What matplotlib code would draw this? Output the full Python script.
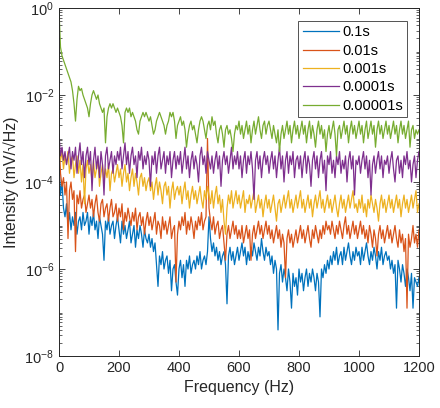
import numpy as np
import matplotlib
matplotlib.use('Agg')
import matplotlib.pyplot as plt
from matplotlib.ticker import LogLocator, NullFormatter, FixedLocator

plt.rcParams['font.family'] = ['Liberation Sans', 'DejaVu Sans']

# frequency grid (Hz), 5 Hz step
freq = np.arange(0, 1205, 5)

# log10 of intensity, 20 values per 100 Hz
log_01 = [
    -3.4, -4.3, -4.0, -4.6, -4.8, -4.5, -5.0, -4.7, -5.1, -4.8, -5.0, -4.7, -5.2, -4.9, -4.8, -5.1, -4.7, -5.0, -4.9, -4.7,
    -5.2, -4.8, -5.0, -4.7, -5.1, -4.9, -5.3, -4.8, -5.0, -5.2, -5.8, -4.9, -5.1, -4.8, -5.2, -5.0, -4.9, -5.3, -5.0, -4.8,
    -5.1, -5.4, -4.9, -5.2, -5.0, -5.3, -5.1, -4.9, -5.4, -5.2, -5.0, -5.5, -5.1, -5.3, -5.0, -5.2, -5.5, -5.1, -5.3, -5.4,
    -5.2, -5.5, -5.3, -5.6, -5.4, -5.9, -6.4, -5.7, -5.9, -5.6, -6.0, -5.8, -5.7, -6.1, -5.8, -6.5, -6.0, -5.9, -6.3, -6.6,
    -6.0, -5.8, -6.2, -5.9, -6.4, -5.8, -6.0, -5.7, -6.1, -5.9, -5.8, -6.0, -5.7, -5.9, -5.6, -6.0, -5.8, -5.7, -5.9, -5.6,
    -4.8, -5.3, -5.6, -5.4, -5.7, -5.5, -5.8, -5.6, -5.9, -5.7, -5.6, -5.9, -6.8, -5.7, -5.5, -5.8, -5.6, -5.9, -5.7, -5.5,
    -5.8, -5.6, -5.4, -5.7, -5.5, -5.9, -5.6, -5.8, -5.5, -5.7, -5.4, -5.6, -5.8, -5.5, -5.7, -5.3, -5.6, -5.8, -5.5, -5.7,
    -5.6, -5.9, -5.7, -6.1, -5.8, -6.0, -7.4, -6.1, -5.9, -6.3, -6.0, -6.2, -6.5, -6.0, -6.3, -6.9, -6.1, -6.4, -6.2, -6.6,
    -6.0, -6.3, -6.1, -6.5, -6.2, -6.0, -6.4, -6.1, -6.3, -6.0, -6.2, -6.5, -6.1, -6.3, -7.1, -6.0, -6.2, -5.9, -6.1, -5.8,
    -6.0, -5.7, -5.9, -5.6, -5.8, -5.5, -5.9, -5.7, -5.6, -5.9, -5.5, -5.8, -5.6, -5.4, -5.7, -5.9, -5.6, -5.8, -5.5, -5.7,
    -5.6, -5.9, -5.5, -5.8, -5.6, -5.4, -5.7, -5.9, -5.6, -5.8, -5.5, -5.7, -6.0, -5.6, -5.8, -5.5, -5.9, -5.7, -5.6, -5.8,
    -5.7, -6.0, -5.8, -6.1, -5.9, -6.9, -5.8, -6.0, -6.3, -5.9, -6.1, -6.4, -6.0, -6.2, -6.5, -6.1, -6.9, -6.2, -6.3, -6.4,
    -6.2]

log_001 = [
    -3.0, -3.8, -4.1, -3.9, -4.3, -4.0, -5.3, -4.2, -4.0, -4.4, -4.2, -5.6, -4.3, -4.5, -4.2, -4.6, -4.4, -4.3, -4.7, -4.5,
    -4.3, -4.6, -4.4, -4.8, -4.5, -4.3, -4.7, -4.9, -4.5, -4.4, -4.8, -4.6, -4.5, -4.9, -4.6, -4.4, -4.8, -4.7, -4.5, -4.9,
    -4.6, -4.8, -4.5, -5.1, -4.7, -4.9, -4.6, -4.8, -5.0, -4.7, -4.9, -4.6, -5.1, -4.8, -4.7, -5.0, -4.8, -5.2, -4.9, -4.7,
    -5.0, -4.8, -5.1, -4.9, -4.7, -5.2, -4.9, -5.0, -5.3, -4.8, -5.1, -4.9, -5.2, -5.0, -4.8, -5.3, -5.1, -5.0, -6.3, -5.2,
    -4.9, -5.1, -4.8, -5.0, -4.7, -5.2, -4.9, -5.1, -4.8, -5.0, -5.3, -4.9, -5.1, -4.8, -5.0, -4.7, -5.1, -4.9, -4.8, -3.0,
    -4.6, -4.9, -5.1, -4.8, -5.2, -5.0, -4.9, -5.3, -5.1, -5.0, -5.4, -5.8, -5.2, -5.0, -5.3, -5.1, -4.9, -5.2, -5.0, -5.3,
    -5.1, -5.3, -5.0, -5.4, -5.2, -5.0, -5.3, -5.1, -5.8, -5.2, -5.0, -5.3, -5.1, -4.9, -5.2, -5.0, -5.3, -5.1, -4.9, -5.2,
    -5.0, -5.3, -5.1, -5.4, -5.2, -5.0, -5.3, -5.1, -5.5, -5.2, -5.4, -6.2, -5.3, -5.1, -5.4, -5.2, -5.5, -5.3, -5.1, -5.4,
    -5.2, -5.0, -5.3, -5.1, -5.4, -5.2, -5.0, -5.3, -5.5, -5.1, -5.3, -5.0, -5.2, -5.4, -5.1, -5.3, -5.0, -5.2, -4.9, -5.1,
    -5.0, -5.2, -4.9, -5.1, -5.3, -5.0, -5.2, -4.9, -5.1, -5.3, -5.0, -4.8, -5.2, -5.0, -5.3, -5.1, -4.9, -5.2, -5.0, -5.3,
    -5.1, -4.9, -5.2, -5.0, -5.3, -5.1, -5.4, -5.0, -5.2, -5.5, -5.1, -5.3, -5.7, -5.2, -5.0, -5.3, -5.1, -5.4, -5.2, -5.0,
    -5.3, -5.1, -5.4, -5.2, -5.0, -5.3, -5.5, -5.1, -5.4, -5.2, -5.6, -5.3, -6.9, -5.2, -5.5, -5.3, -5.0, -5.4, -5.2, -5.5,
    -5.1]

log_0001 = [
    -3.2, -3.5, -3.3, -3.7, -3.4, -3.6, -3.3, -3.8, -3.5, -3.4, -3.9, -3.6, -3.4, -3.8, -3.5, -4.0, -3.6, -4.5, -3.7, -3.5,
    -3.8, -3.6, -4.0, -3.5, -3.9, -3.7, -3.5, -4.1, -3.8, -3.6, -4.0, -3.7, -3.9, -3.6, -4.2, -3.8, -3.7, -4.0, -3.8, -3.6,
    -3.9, -3.7, -4.1, -3.8, -3.6, -4.0, -3.8, -4.2, -3.9, -3.7, -4.1, -3.8, -4.0, -4.3, -3.9, -3.8, -4.1, -3.9, -4.2, -4.0,
    -3.9, -4.2, -4.0, -4.4, -4.1, -3.9, -4.3, -4.0, -4.2, -4.5, -4.1, -4.0, -4.3, -4.1, -4.6, -4.2, -4.0, -4.4, -4.2, -4.1,
    -4.3, -4.1, -4.5, -4.2, -4.0, -4.4, -4.2, -4.6, -4.3, -4.1, -4.4, -4.2, -4.5, -4.3, -4.1, -4.4, -4.6, -4.2, -4.4, -4.1,
    -4.3, -4.5, -4.2, -4.6, -4.3, -4.1, -4.5, -4.3, -4.7, -4.4, -4.9, -5.2, -4.6, -4.3, -4.5, -4.2, -4.6, -4.4, -4.2, -4.5,
    -4.3, -4.6, -4.4, -4.2, -4.7, -4.4, -4.5, -4.3, -4.6, -4.4, -4.2, -4.7, -4.5, -4.3, -4.6, -4.4, -4.8, -4.5, -4.3, -4.6,
    -4.4, -4.7, -4.5, -4.3, -4.6, -4.9, -4.5, -4.4, -4.7, -4.5, -4.3, -4.6, -4.4, -4.2, -4.6, -4.4, -4.7, -4.5, -4.3, -4.6,
    -4.4, -4.2, -4.6, -4.4, -4.7, -4.5, -4.3, -4.6, -4.4, -4.8, -4.5, -4.3, -4.6, -4.4, -4.2, -4.6, -4.4, -4.7, -4.5, -4.3,
    -4.6, -4.4, -4.7, -4.5, -4.3, -4.6, -4.8, -4.5, -4.3, -4.6, -4.4, -4.7, -4.5, -4.3, -4.6, -4.4, -4.2, -4.6, -4.5, -4.7,
    -4.4, -4.6, -4.3, -4.7, -4.5, -4.8, -4.4, -4.6, -4.3, -4.5, -4.7, -4.4, -4.6, -4.9, -4.5, -4.3, -4.6, -4.4, -4.7, -4.5,
    -4.3, -4.6, -4.4, -4.7, -4.5, -4.3, -4.6, -4.4, -4.8, -4.5, -4.3, -4.6, -4.4, -4.7, -4.5, -4.3, -4.6, -4.4, -4.2, -4.7,
    -4.5]

log_00001 = [
    -2.9, -3.4, -3.2, -3.5, -3.3, -3.6, -3.4, -3.2, -3.7, -3.3, -3.5, -3.2, -3.8, -3.4, -3.1, -3.6, -3.3, -3.9, -3.4, -3.2,
    -3.6, -3.3, -4.2, -3.5, -3.2, -3.7, -3.4, -3.9, -3.3, -3.6, -4.3, -3.4, -3.2, -3.7, -3.5, -3.3, -3.8, -3.4, -3.6, -3.3,
    -3.5, -3.2, -3.7, -3.4, -3.1, -3.6, -3.3, -3.8, -3.4, -3.2, -3.6, -3.4, -3.9, -3.3, -3.5, -3.2, -3.7, -3.4, -3.6, -3.3,
    -3.5, -4.1, -3.4, -3.6, -3.3, -3.8, -3.4, -3.2, -3.7, -3.5, -3.3, -3.8, -3.4, -3.6, -3.3, -3.9, -3.5, -3.3, -3.7, -3.4,
    -3.6, -3.3, -3.8, -3.5, -3.2, -3.7, -3.4, -3.9, -3.5, -3.3, -3.7, -3.4, -3.6, -4.0, -3.4, -3.2, -3.6, -3.4, -3.8, -3.3,
    -3.5, -3.7, -3.4, -3.8, -3.5, -3.3, -3.7, -3.4, -4.1, -3.5, -3.3, -3.6, -3.4, -3.8, -3.5, -3.2, -3.7, -3.4, -3.6, -3.3,
    -3.7, -3.4, -3.9, -3.5, -3.3, -3.8, -3.4, -3.6, -3.3, -3.7, -4.4, -3.5, -3.3, -3.7, -3.4, -3.9, -3.5, -3.3, -3.6, -3.4,
    -3.8, -3.5, -3.3, -3.7, -3.4, -3.9, -3.5, -3.2, -3.7, -3.4, -4.0, -3.5, -3.3, -3.8, -3.4, -3.6, -3.3, -3.9, -3.5, -3.4,
    -3.7, -3.4, -3.9, -3.5, -3.3, -3.8, -3.4, -3.6, -4.1, -3.5, -3.3, -3.7, -3.4, -3.9, -3.5, -3.3, -3.8, -3.5, -4.2, -3.4,
    -3.6, -3.3, -3.8, -3.5, -3.9, -3.4, -3.6, -3.3, -3.8, -3.5, -3.7, -3.4, -4.0, -3.5, -3.3, -3.7, -3.4, -4.3, -3.5, -3.6,
    -3.4, -3.8, -3.5, -3.3, -3.7, -3.4, -3.9, -3.5, -4.3, -3.6, -3.4, -3.8, -3.5, -3.3, -3.7, -3.4, -3.9, -3.5, -3.6, -3.4,
    -3.8, -3.5, -3.3, -3.7, -4.0, -3.5, -3.4, -3.8, -3.5, -3.9, -3.4, -3.6, -3.3, -3.7, -3.5, -4.0, -3.6, -3.4, -3.9, -3.5,
    -3.3]

log_000001 = [
    -0.05, -0.9, -1.1, -1.2, -1.3, -1.4, -1.5, -1.6, -1.7, -1.9, -2.2, -2.6, -2.1, -1.8, -1.9, -1.85, -2.0, -2.1, -2.2, -2.3,
    -2.5, -2.2, -2.0, -1.9, -2.0, -2.1, -2.0, -2.2, -2.3, -2.4, -2.3, -3.1, -2.5, -2.3, -2.2, -2.3, -2.2, -2.3, -2.4, -2.3,
    -2.4, -2.5, -2.7, -3.1, -2.4, -2.3, -2.4, -2.3, -2.5, -2.4, -2.5, -2.6, -2.8, -2.9, -2.6, -2.5, -2.4, -2.5, -2.4, -2.5,
    -2.6, -2.5, -2.7, -2.9, -2.8, -2.6, -2.5, -2.4, -2.5, -2.6, -2.7, -2.9, -2.7, -2.6, -2.4, -2.5, -2.4, -2.6, -3.0, -2.7,
    -2.6, -2.5, -2.7, -2.6, -2.8, -3.2, -2.9, -2.7, -2.6, -2.8, -2.7, -2.9, -3.1, -2.8, -2.6, -2.5, -2.6, -2.8, -3.0, -2.7,
    -2.6, -2.8, -2.5, -2.7, -2.6, -2.9, -3.1, -2.8, -2.7, -2.9, -3.2, -2.8, -2.7, -2.9, -2.8, -3.0, -3.3, -2.9, -2.7, -2.8,
    -2.6, -2.9, -2.7, -3.0, -2.8, -2.6, -2.9, -2.7, -3.1, -2.8, -2.6, -2.9, -2.7, -2.5, -2.8, -3.0, -2.7, -2.6, -2.9, -2.7,
    -2.6, -2.8, -3.0, -2.7, -2.9, -3.1, -2.8, -3.3, -2.9, -2.7, -3.0, -2.8, -2.6, -2.9, -2.7, -3.1, -2.8, -2.6, -2.9, -2.7,
    -3.0, -2.8, -2.6, -2.9, -2.7, -3.1, -2.8, -2.6, -3.0, -2.7, -2.9, -3.2, -2.8, -2.6, -2.9, -2.7, -3.0, -2.8, -3.3, -2.9,
    -2.7, -3.0, -2.8, -2.6, -2.9, -3.4, -2.8, -2.7, -3.0, -2.8, -2.6, -2.9, -2.7, -3.1, -2.8, -2.6, -2.9, -2.7, -3.0, -2.8,
    -2.6, -2.9, -2.7, -3.1, -2.8, -2.6, -3.0, -2.8, -2.6, -2.9, -2.7, -3.2, -2.8, -2.6, -2.9, -2.7, -3.0, -2.8, -2.6, -2.9,
    -2.7, -3.0, -2.8, -2.6, -2.9, -2.7, -3.1, -2.8, -2.6, -2.9, -2.7, -3.0, -2.8, -2.6, -3.2, -2.8, -2.7, -3.0, -2.8, -2.9,
    -2.8]

labels = ['0.1s', '0.01s', '0.001s', '0.0001s', '0.00001s']
colors = ['#0072BD', '#D95319', '#EDB120', '#7E2F8E', '#77AC30']
series = [log_01, log_001, log_0001, log_00001, log_000001]

fig = plt.figure(figsize=(4.4, 4.08), dpi=100)
ax = fig.add_axes([59 / 440, 1 - 356 / 408, 360 / 440, 348 / 408])

for vals, lab, col in zip(series, labels, colors):
    ax.plot(freq, 10.0 ** np.array(vals), color=col, lw=0.9, label=lab)

ax.set_yscale('log')
ax.set_xlim(0, 1200)
ax.set_ylim(1e-8, 1)
ax.set_xticks(np.arange(0, 1201, 200))
ax.yaxis.set_major_locator(FixedLocator([1e-8, 1e-6, 1e-4, 1e-2, 1]))
ax.yaxis.set_minor_locator(LogLocator(base=10, subs=np.arange(1, 10), numticks=50))
ax.yaxis.set_minor_formatter(NullFormatter())

ax.tick_params(which='both', direction='in', top=True, right=True,
               colors='#262626', labelsize=10.5)
ax.tick_params(which='major', length=4, width=0.6)
ax.tick_params(which='minor', length=2, width=0.5)
for s in ax.spines.values():
    s.set_color('#262626')
    s.set_linewidth(0.7)

ax.set_xlabel('Frequency (Hz)', fontsize=11.5, color='#262626')
ax.set_ylabel('Intensity (mV/\u221aHz)', fontsize=11.5, color='#262626')

leg = ax.legend(loc='upper right', bbox_to_anchor=(0.967, 0.963), borderaxespad=0,
                fontsize=10.5, frameon=True, fancybox=False, handlelength=2.5,
                handletextpad=0.2, labelspacing=0.3, borderpad=0.3)
leg.get_frame().set_edgecolor('#262626')
leg.get_frame().set_linewidth(0.7)

fig.savefig('out.png', dpi=100)
